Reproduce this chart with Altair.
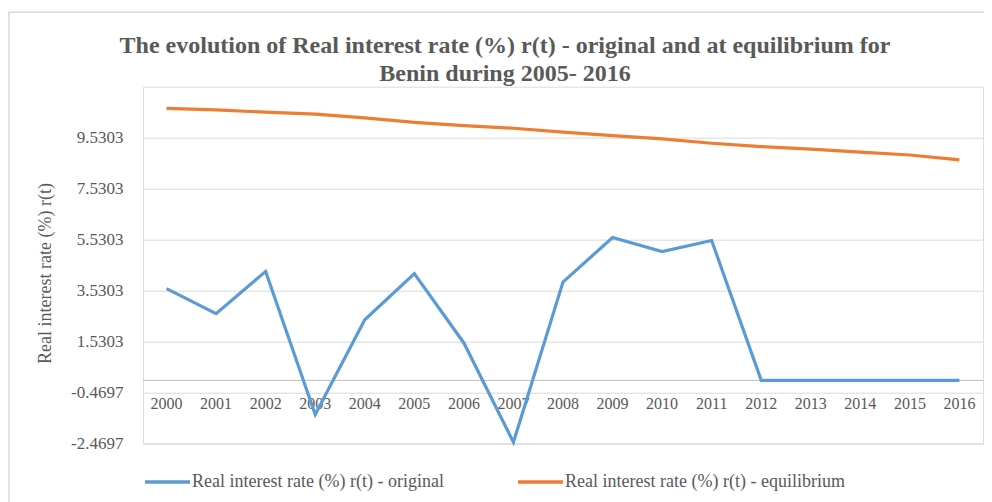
import altair as alt
import pandas as pd

years = [str(y) for y in range(2000, 2017)]
original = [3.60, 2.62, 4.28, -1.34, 2.38, 4.19, 1.47, -2.43, 3.86, 5.61, 5.06, 5.49,
            0.0, 0.0, 0.0, 0.0, 0.0]
equilibrium = [10.68, 10.62, 10.53, 10.45, 10.31, 10.13, 10.00, 9.90, 9.75, 9.61, 9.48,
               9.31, 9.18, 9.08, 8.96, 8.85, 8.66]
series_names = ["Real interest rate (%) r(t) - original",
                "Real interest rate (%) r(t) - equilibrium"]
y_ticks = [-2.4697, -0.4697, 1.5303, 3.5303, 5.5303, 7.5303, 9.5303]

rows = []
for yr, o, e in zip(years, original, equilibrium):
    rows.append({"year": yr, "series": series_names[0], "value": o})
    rows.append({"year": yr, "series": series_names[1], "value": e})
df = pd.DataFrame(rows)
year_df = pd.DataFrame({"year": years})

FONT = "Liberation Serif"
GREY = "#595959"
W, H = 840, 356.6

xscale = alt.Scale(domain=years, padding=0.475)
yscale = alt.Scale(domain=[-2.4697, 11.5303], nice=False, zero=False)

frame = alt.Chart(pd.DataFrame({"a": [0]})).mark_rect(
    fill=None, stroke="#d9d9d9", strokeWidth=1.5, clip=False
).encode(
    x=alt.value(-134), x2=alt.value(W + 30),
    y=alt.value(-74.5), y2=alt.value(H + 70)
)

zero_rule = alt.Chart(pd.DataFrame({"v": [0]})).mark_rule(
    color="#bfbfbf", strokeWidth=1
).encode(
    y=alt.Y("v:Q", scale=yscale,
            axis=alt.Axis(values=y_ticks, labelExpr="'' + datum.value",
                          title="Real interest rate (%) r(t)",
                          grid=True, gridColor="#d9d9d9", domain=False, ticks=False,
                          labelPadding=20, labelFont=FONT, labelFontSize=17,
                          labelColor=GREY, titleFont=FONT, titleFontSize=18,
                          titleFontWeight="normal", titleColor=GREY,
                          titleX=-98, titleY=H / 2 + 8, titleAngle=270,
                          titleAlign="center", titleBaseline="middle")),
    x=alt.value(0), x2=alt.value(W)
)

labels = alt.Chart(year_df).mark_text(
    font=FONT, fontSize=16, color=GREY, dy=24, baseline="middle"
).encode(
    x=alt.X("year:N", scale=xscale, axis=None),
    y=alt.YDatum(0),
    text="year:N"
)

lines = alt.Chart(df).mark_line(strokeWidth=3.2).encode(
    x=alt.X("year:N", scale=xscale, axis=None, sort=years),
    y=alt.Y("value:Q", scale=yscale),
    color=alt.Color("series:N",
                    scale=alt.Scale(domain=series_names, range=["#5b9bd5", "#ed7d31"]),
                    legend=alt.Legend(title=None, orient="none", direction="horizontal",
                                      legendX=0, legendY=H + 14,
                                      symbolType="stroke", symbolSize=2025,
                                      symbolStrokeWidth=3.5, labelFont=FONT,
                                      labelFontSize=18, labelColor=GREY, labelLimit=0,
                                      labelOffset=0, columnPadding=67))
)

chart = alt.layer(frame, zero_rule, labels, lines).properties(
    width=W, height=H,
    autosize=alt.AutoSizeParams(type="none"),
    padding={"left": 135, "top": 78.7, "right": 1, "bottom": 58.7},
    title=alt.TitleParams(
        text=["The evolution of Real interest rate (%) r(t) - original  and at equilibrium  for",
              "Benin during   2005- 2016"],
        font=FONT, fontSize=24, fontWeight="bold", color=GREY,
        anchor="middle", dx=-58, dy=83, offset=8, lineHeight=28
    )
).configure_view(stroke=None).configure(background="white")

chart.save("out.html", embed_options={"renderer": "svg", "actions": False})
